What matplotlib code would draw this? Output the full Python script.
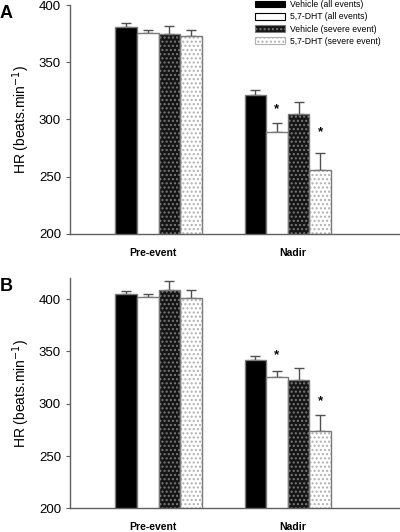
import matplotlib
matplotlib.use("Agg")
import matplotlib.pyplot as plt
from matplotlib.patches import Patch
import numpy as np

plt.rcParams['font.family'] = ['Liberation Sans', 'DejaVu Sans']
plt.rcParams['hatch.linewidth'] = 1.0

groups = ["Pre-event", "Nadir"]
series = ["Vehicle (all events)", "5,7-DHT (all events)",
          "Vehicle (severe event)", "5,7-DHT (severe event)"]

# Panel A: means and SEM (upper)
A_pre = [381, 375.5, 374.7, 373]
A_pre_err = [3, 2.5, 7, 5]
A_nadir = [321, 289, 305, 256]
A_nadir_err = [5, 7.7, 10, 14.5]
A_stars = [(1, 309), (3, 288.5)]  # (series index at Nadir, y)

# Panel B
B_pre = [405, 402, 409, 401.5]
B_pre_err = [3, 3, 8, 7.3]
B_nadir = [341.5, 325.5, 323, 273.5]
B_nadir_err = [4.2, 5.8, 10.8, 16]
B_stars = [(1, 346), (3, 302.7)]

styles = [
    dict(facecolor='black', hatch=None, hatchcolor=None),
    dict(facecolor='white', hatch=None, hatchcolor=None),
    dict(facecolor='#151515', hatch='....', hatchcolor='#7a7a7a'),
    dict(facecolor='white', hatch='....', hatchcolor='#b0b0b0'),
]
edge = '#7a7a7a'
w = 0.167

fig = plt.figure(figsize=(4.0, 5.32), dpi=100)
axA = fig.add_axes([0.175, 0.5602, 0.825, 0.4304])
axB = fig.add_axes([0.175, 0.0446, 0.825, 0.4323])


def draw(ax, pre, pre_err, nadir, nadir_err, stars, ylim, letter):
    x = np.arange(len(groups))
    for i in range(4):
        vals = [pre[i], nadir[i]]
        errs = [pre_err[i], nadir_err[i]]
        xi = x + (i - 1.5) * w
        st = styles[i]
        if st['hatch']:
            ax.bar(xi, vals, w, bottom=0, facecolor=st['facecolor'],
                   edgecolor=st['hatchcolor'], hatch=st['hatch'], linewidth=0, zorder=2)
            ax.bar(xi, vals, w, bottom=0, fill=False, edgecolor=edge,
                   linewidth=1.0, zorder=3)
        else:
            ax.bar(xi, vals, w, bottom=0, facecolor=st['facecolor'],
                   edgecolor=edge, linewidth=1.0, zorder=2)
        ax.errorbar(xi, vals, yerr=[[0, 0], errs], fmt='none', ecolor='#505050',
                    elinewidth=1.0, capsize=3.5, capthick=1.0, zorder=1)
    for si, sy in stars:
        ax.text(1 + (si - 1.5) * w, sy, '*', ha='center', va='center',
                fontsize=9.5, fontweight='bold', color='black')
    ax.set_ylim(*ylim)
    ax.set_xlim(-0.685, 1.869)
    ax.set_yticks([200, 250, 300, 350, 400])
    ax.tick_params(axis='y', direction='out', length=3, width=0.8,
                   color='#606060', labelsize=9.5, pad=3.5)
    ax.set_xticks([-0.046, 1.041])
    ax.set_xticklabels(groups, fontsize=7.5, fontweight='bold')
    ax.tick_params(axis='x', length=0, pad=10)
    for s in ['top', 'right']:
        ax.spines[s].set_visible(False)
    for s in ['left', 'bottom']:
        ax.spines[s].set_color('#606060')
        ax.spines[s].set_linewidth(1.0)
    ax.set_ylabel('HR (beats.min$^{-1}$)', fontsize=10, labelpad=5)
    ax.text(-0.175 / 0.825, 1.0, letter, transform=ax.transAxes,
            fontsize=13, fontweight='bold', ha='left', va='top')


draw(axA, A_pre, A_pre_err, A_nadir, A_nadir_err, A_stars, (200, 400), 'A')
draw(axB, B_pre, B_pre_err, B_nadir, B_nadir_err, B_stars, (200, 420), 'B')

handles = []
for st in styles:
    if st['hatch']:
        handles.append(Patch(facecolor=st['facecolor'], edgecolor=st['hatchcolor'],
                             hatch=st['hatch'], linewidth=0.8))
    else:
        handles.append(Patch(facecolor=st['facecolor'], edgecolor='black', linewidth=0.8))
leg = axA.legend(handles, series, loc='upper left', bbox_to_anchor=(0.561, 1.022),
                 frameon=False, fontsize=6.2, handlelength=3.5, handleheight=0.85,
                 labelspacing=0.38, handletextpad=0.55, borderaxespad=0, borderpad=0)

fig.savefig('out.png', dpi=100)
